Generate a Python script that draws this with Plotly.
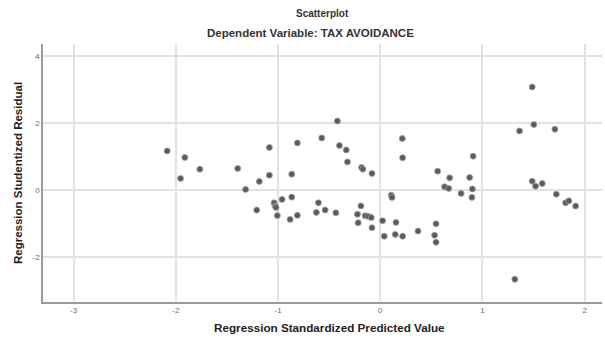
import plotly.graph_objects as go

# Regression Standardized Predicted Value
pred = [-2.085, -1.912, -1.954, -1.765, -1.395, -1.085, -1.085, -1.183, -1.317, -1.209,
        -0.419, -0.572, -0.811, -0.399, -0.333, -0.321, -0.183, -0.170, -0.081, -0.866,
        -1.039, -1.029, -1.020, -0.961, -0.866, -1.007, -0.882, -0.811, -0.605, -0.625,
        -0.539, -0.434, -0.189, -0.223, -0.147, -0.115, -0.088, -0.216, -0.081, 0.023,
        0.108, 0.115, 0.154, 0.039, 0.147, 0.219, 0.370, 0.546, 0.532, 0.546,
        0.216, 0.219, 0.909, 0.562, 0.679, 0.875, 0.630, 0.670, 0.791, 0.902,
        0.897, 1.487, 1.503, 1.363, 1.709, 1.487, 1.520, 1.585, 1.723, 1.814,
        1.846, 1.912, 1.317]
# Regression Studentized Residual
resid = [1.168, 0.972, 0.348, 0.624, 0.645, 1.269, 0.446, 0.259, 0.021, -0.594,
         2.059, 1.554, 1.406, 1.328, 1.198, 0.841, 0.675, 0.624, 0.496, 0.475,
         -0.377, -0.475, -0.514, -0.276, -0.208, -0.758, -0.871, -0.749, -0.377, -0.663,
         -0.594, -0.675, -0.470, -0.719, -0.764, -0.782, -0.817, -0.972, -1.120, -0.912,
         -0.149, -0.217, -0.960, -1.373, -1.317, -1.373, -1.218, -1.004, -1.343, -1.551,
         1.536, 0.966, 1.010, 0.565, 0.366, 0.377, 0.098, 0.051, -0.098, 0.036,
         -0.217, 3.070, 1.952, 1.762, 1.813, 0.267, 0.119, 0.199, -0.119, -0.377,
         -0.318, -0.475, -2.654]

x_ticks = [-3, -2, -1, 0, 1, 2]
y_ticks = [-2, 0, 2, 4]

fig = go.Figure()
fig.add_trace(go.Scatter(
    x=pred, y=resid, mode="markers",
    marker=dict(size=6, color="#5b5b5b", line=dict(color="#a0a0a0", width=0.8)),
    showlegend=False,
))

font_family = "Liberation Sans, Arial, sans-serif"

W, H = 605, 340
ML, MR, MT, MB = 43, 3, 44, 38
plot_w = W - ML - MR
plot_h = H - MT - MB


def px(pix):
    return (pix - ML) / plot_w


def py(pix):
    # pixel row from top -> paper y
    return (H - MB - pix) / plot_h


fig.update_layout(
    width=W, height=H,
    margin=dict(l=ML, r=MR, t=MT, b=MB),
    paper_bgcolor="white", plot_bgcolor="white",
    font=dict(family=font_family, color="#222"),
    annotations=[
        dict(text="<b>Scatterplot</b>", x=px(322), y=py(13), xref="paper", yref="paper",
             yanchor="middle", showarrow=False, font=dict(size=10, color="#333")),
        dict(text="<b>Dependent Variable: TAX AVOIDANCE</b>", x=px(310), y=py(33), xref="paper", yref="paper",
             yanchor="middle", showarrow=False, font=dict(size=11.5, color="#333")),
        dict(text="<b>Regression Standardized Predicted Value</b>", x=px(329), y=py(327), xref="paper", yref="paper",
             yanchor="middle", showarrow=False, font=dict(size=11.7, color="#222")),
    ],
)

fig.update_xaxes(
    range=[-3.30, 2.17], tickvals=x_ticks, ticktext=[str(v) for v in x_ticks],
    showgrid=True, gridcolor="#e2e2e2", gridwidth=1.5, zeroline=False,
    showline=True, linecolor="#9a9a9a", linewidth=1.5,
    tickfont=dict(size=8, color="#666"), ticks="",
)
fig.update_yaxes(
    range=[-3.33, 4.35], tickvals=y_ticks, ticktext=[str(v) for v in y_ticks],
    showgrid=True, gridcolor="#e2e2e2", gridwidth=1.5, zeroline=False,
    showline=True, linecolor="#9a9a9a", linewidth=1.5,
    tickfont=dict(size=8, color="#666"), ticks="",
    title=dict(text="<b>Regression Studentized Residual</b>", font=dict(size=11.5, color="#222"), standoff=8),
)

fig.write_html("out.html", config={"displayModeBar": False},
               post_script="document.body.style.margin='0';")
